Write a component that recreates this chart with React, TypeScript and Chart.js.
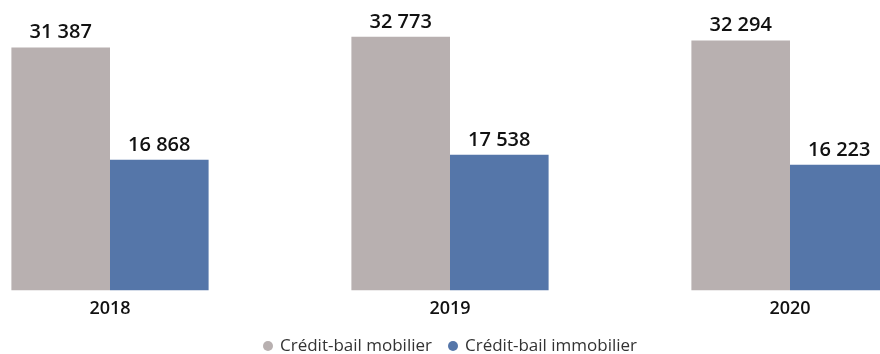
import React, { useEffect, useRef } from "react";
import { Chart, registerables } from "chart.js";

Chart.register(...registerables);

const years = ["2018", "2019", "2020"];
const mobilier = [31387, 32773, 32294];
const immobilier = [16868, 17538, 16223];
const seriesNames = ["Crédit-bail mobilier", "Crédit-bail immobilier"];

const GREY = "#b8b0b0";
const BLUE = "#5576a9";
const FONT = "'Open Sans', 'DejaVu Sans', sans-serif";

const fmt = (v: number) => String(v).replace(/\B(?=(\d{3})+(?!\d))/g, " ");

// Draws each bar's value just above its top edge
const valueLabels = {
  id: "valueLabels",
  afterDatasetsDraw(chart: any) {
    const ctx = chart.ctx;
    ctx.save();
    ctx.font = `600 20px ${FONT}`;
    ctx.fillStyle = "#111";
    ctx.textAlign = "center";
    ctx.textBaseline = "alphabetic";
    chart.data.datasets.forEach((ds: any, i: number) => {
      const meta = chart.getDatasetMeta(i);
      meta.data.forEach((el: any, j: number) => {
        ctx.fillText(fmt(ds.data[j]), el.x, el.y - 9);
      });
    });
    ctx.restore();
  },
};

// Bottom legend: round markers followed by the series names, centred
const bottomLegend = {
  id: "bottomLegend",
  afterDraw(chart: any) {
    const ctx = chart.ctx;
    const r = 5;
    const markerGap = 7;
    const itemGap = 16;
    const y = chart.height - 8;
    ctx.save();
    ctx.font = `17px ${FONT}`;
    ctx.textBaseline = "middle";
    const items = chart.data.datasets.map((ds: any) => ({
      text: ds.label,
      color: ds.backgroundColor,
      w: r * 2 + markerGap + ctx.measureText(ds.label).width,
    }));
    const total =
      items.reduce((s: number, it: any) => s + it.w, 0) + itemGap * (items.length - 1);
    let x = chart.width / 2 - total / 2;
    items.forEach((it: any) => {
      ctx.fillStyle = it.color;
      ctx.beginPath();
      ctx.arc(x + r, y, r, 0, Math.PI * 2);
      ctx.fill();
      ctx.fillStyle = "#333";
      ctx.textAlign = "left";
      ctx.fillText(it.text, x + r * 2 + markerGap, y);
      x += it.w + itemGap;
    });
    ctx.restore();
  },
};

export default function App() {
  const ref = useRef<HTMLCanvasElement>(null);

  useEffect(() => {
    if (!ref.current) return;
    const chart = new Chart(ref.current, {
      type: "bar",
      data: {
        labels: years,
        datasets: [
          { label: seriesNames[0], data: mobilier, backgroundColor: GREY },
          { label: seriesNames[1], data: immobilier, backgroundColor: BLUE },
        ],
      },
      options: {
        animation: false,
        responsive: true,
        maintainAspectRatio: false,
        layout: { padding: { top: 4, left: 0, right: 0, bottom: 34 } },
        datasets: {
          bar: { categoryPercentage: 0.58, barPercentage: 1.0 },
        },
        scales: {
          x: {
            grid: { display: false },
            border: { display: false },
            ticks: {
              color: "#111",
              font: { family: FONT, size: 18, weight: 600 },
              padding: 0,
            },
          },
          y: {
            display: false,
            min: 0,
            max: 37000,
          },
        },
        plugins: {
          legend: { display: false },
          tooltip: { enabled: false },
        },
      },
      plugins: [valueLabels, bottomLegend],
    });
    return () => chart.destroy();
  }, []);

  return (
    <div
      style={{
        position: "fixed",
        left: 0,
        top: 0,
        width: 880,
        height: 354,
        overflow: "hidden",
        background: "#fff",
      }}
    >
      <div style={{ position: "absolute", left: -60, top: 0, width: 1020, height: 354 }}>
        <canvas ref={ref} />
      </div>
    </div>
  );
}
